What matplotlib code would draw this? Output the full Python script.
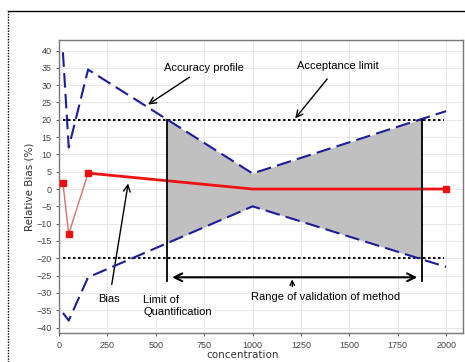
import numpy as np
import matplotlib
matplotlib.use('Agg')
import matplotlib.pyplot as plt
from matplotlib.lines import Line2D

# concentration levels and results
conc = [20, 50, 150, 1000, 2000]
upper_profile = [39.5, 12.0, 34.5, 4.5, 22.5]
lower_profile = [-35.8, -38.0, -25.5, -5.0, -22.5]
bias = [1.7, -13.0, 4.6, 0.0, 0.0]
acc_limit = 20
limit_span = [20, 1990]
loq = 560
uloq = 1875

xticks = [0, 250, 500, 750, 1000, 1250, 1500, 1750, 2000]
yticks = list(range(-40, 45, 5))

plt.rcParams['font.family'] = ['Liberation Sans', 'DejaVu Sans']
fig = plt.figure(figsize=(4.65, 3.62), dpi=100)
ax = fig.add_axes([0.127, 0.080, 0.869, 0.810])

# shaded validation region between the two profiles
xs = np.linspace(loq, uloq, 200)
ax.fill_between(xs, np.interp(xs, conc, lower_profile), np.interp(xs, conc, upper_profile),
                color='#c0c0c0', lw=0, zorder=1)

# acceptance limits
for s in (1, -1):
    ax.plot(limit_span, [s * acc_limit, s * acc_limit], color='#111111', lw=1.5,
            ls=(0, (1.2, 1.2)), zorder=3)

# accuracy profile
ax.plot(conc, upper_profile, color='#1c1c9c', lw=1.5, dashes=(7, 3), zorder=4)
ax.plot(conc, lower_profile, color='#1c1c9c', lw=1.5, dashes=(7, 3), zorder=4)

# bias
ax.plot(conc[:3], bias[:3], color='#d87070', lw=1.0, zorder=5)
ax.plot(conc[2:], bias[2:], color='#ee1111', lw=2.0, zorder=5)
ax.plot([conc[0], conc[1], conc[2], conc[4]], [bias[0], bias[1], bias[2], bias[4]], 's',
        color='#ee1111', ms=4, zorder=6)

# LOQ / upper limit lines
ax.plot([loq, loq], [acc_limit, -26.5], color='black', lw=1.3, zorder=6)
ax.plot([uloq, uloq], [acc_limit, -26.5], color='black', lw=1.3, zorder=6)

ax.annotate('', xy=(loq + 10, -25.5), xytext=(uloq - 10, -25.5),
            arrowprops=dict(arrowstyle='<->', color='black', lw=1.5, mutation_scale=14))
ax.annotate('', xy=(1205, -25.3), xytext=(1205, -29.0),
            arrowprops=dict(arrowstyle='->', color='black', lw=1.0, mutation_scale=8))

tk = dict(fontsize=8, color='black')
ax.annotate('Accuracy profile', xy=(460, 24.4), xytext=(540, 35.0),
            ha='left', va='center', **tk,
            arrowprops=dict(arrowstyle='->', color='black', lw=1.0, mutation_scale=12,
                            shrinkA=2, shrinkB=0))
ax.annotate('Acceptance limit', xy=(1220, 20.4), xytext=(1230, 35.6),
            ha='left', va='center', **tk,
            arrowprops=dict(arrowstyle='->', color='black', lw=1.0, mutation_scale=12,
                            shrinkA=5, shrinkB=0))
ax.annotate('Bias', xy=(357, 1.6), xytext=(260, -31.8),
            ha='center', va='center', **tk,
            arrowprops=dict(arrowstyle='->', color='black', lw=1.0, mutation_scale=12,
                            shrinkA=5, shrinkB=0))
ax.text(435, -33.8, 'Limit of\nQuantification', ha='left', va='center',
        linespacing=1.15, **tk)
ax.text(1375, -31.3, 'Range of validation of method', ha='center', va='center', **tk)

ax.set_xlim(0, 2088)
ax.set_ylim(-41.6, 43.1)
ax.set_xticks(xticks)
ax.set_yticks(yticks)
ax.tick_params(labelsize=6.5, colors='#444444', length=2, width=0.6)
ax.grid(True, color='#e8e8e8', lw=0.7)
ax.set_axisbelow(True)
for sp in ax.spines.values():
    sp.set_color('#777777')
    sp.set_linewidth(1.0)

ax.set_xlabel('concentration', fontsize=7.5, color='#333333', family='DejaVu Sans')
ax.xaxis.set_label_coords(0.455, -0.058)
ax.set_ylabel('Relative Bias (%)', fontsize=7.5, color='#333333', family='DejaVu Sans')
ax.yaxis.set_label_coords(-0.062, 0.5)

# outer frame of the screenshot
fig.add_artist(Line2D([8 / 465, 1.0], [1 - 11 / 362, 1 - 11 / 362], color='black', lw=1.0,
                      transform=fig.transFigure))
fig.add_artist(Line2D([8 / 465, 8 / 465], [0, 1 - 11 / 362], color='black', lw=1.0,
                      ls=(0, (1, 1)), transform=fig.transFigure))

fig.savefig('out.png', dpi=100)
